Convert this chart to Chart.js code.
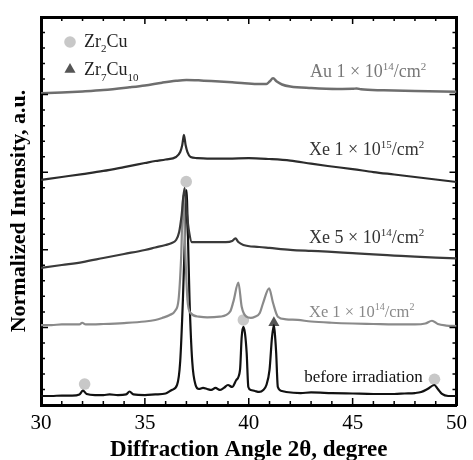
<!DOCTYPE html>
<html>
<head>
<meta charset="utf-8">
<script src="https://cdn.jsdelivr.net/npm/chart.js@4.4.1/dist/chart.umd.min.js"></script>
<style>
  html, body { margin: 0; padding: 0; background: #fff; }
  canvas { display: block; }
</style>
</head>
<body>
<canvas id="xrd" width="473" height="460"></canvas>
<script>
// XRD patterns, 2θ in degrees, stacked normalized intensities (a.u.)
const beforeAngle = [30.0,30.5,31.0,31.5,31.85,32.02,32.2,32.6,33.0,33.3,33.7,34.1,34.26,34.45,35.0,35.5,36.0,36.3,36.55,36.7,36.83,36.92,37.0,37.08,37.15,37.28,37.44,37.6,37.8,38.0,38.2,38.4,38.6,38.8,39.0,39.2,39.4,39.58,39.66,39.74,39.82,39.9,39.98,40.1,40.3,40.5,40.7,40.85,41.0,41.12,41.21,41.28,41.32,41.4,41.6,41.8,42.5,43.0,44.0,45.0,46.0,47.0,47.5,48.0,48.3,48.6,48.93,49.1,49.3,49.6,50.0];
const beforeInt   = [0.58,0.58,0.61,0.61,0.68,0.93,0.71,0.64,0.64,0.68,0.64,0.68,0.87,0.68,0.64,0.68,0.74,0.97,1.29,2.8,6.77,10.5,13.85,10.5,6.77,2.8,1.29,1.03,1.10,1.03,0.97,1.10,0.97,1.10,1.29,1.16,1.61,2.26,4.38,5.03,4.6,3.35,1.16,0.97,0.90,0.84,0.97,1.29,2.26,4.38,5.15,4.2,3.35,1.16,0.90,0.84,0.77,0.81,0.77,0.74,0.71,0.71,0.74,0.77,0.84,1.03,1.29,1.03,0.71,0.58,0.58];

const xe14Angle = [30.0,30.5,31.0,31.5,31.85,31.98,32.15,33.0,34.0,35.0,35.5,35.83,36.2,36.45,36.62,36.74,36.85,36.96,37.05,37.2,37.6,38.0,38.6,39.1,39.26,39.5,39.66,39.88,40.1,40.3,40.53,40.69,40.98,41.17,41.4,41.8,42.36,43.0,44.0,45.0,46.0,47.0,48.0,48.5,48.82,49.1,49.5,50.0];
const xe14Int   = [5.15,5.15,5.19,5.19,5.19,5.30,5.19,5.22,5.28,5.38,5.48,5.61,5.80,6.06,6.77,9.34,13.53,9.34,6.77,5.93,5.69,5.64,5.69,6.01,6.66,7.88,6.33,5.69,5.61,5.69,5.93,6.57,7.52,6.57,5.69,5.52,5.48,5.38,5.30,5.25,5.22,5.19,5.19,5.25,5.43,5.22,5.12,5.09];

const xe5Angle = [30,31,32,33,34,35,35.5,36,36.3,36.5,36.65,36.77,36.91,37.03,37.13,37.26,37.6,38.2,38.9,39.2,39.36,39.5,39.74,40.5,41.0,42,43,43.8,45,46,47,48,49,50];
const xe5Int   = [8.83,9.02,9.21,9.47,9.73,9.99,10.15,10.31,10.44,10.63,11.15,12.24,13.98,12.24,11.15,10.50,10.50,10.50,10.50,10.57,10.73,10.50,10.31,10.18,10.12,10.0,9.93,9.88,9.78,9.70,9.63,9.56,9.50,9.45];

const xe15Angle = [30,31,32,33,34,35,35.5,36,36.5,36.7,36.8,36.88,36.96,37.05,37.2,37.5,38,39,40,41,42,43,43.8,45,46,47,48,49,50];
const xe15Int   = [14.50,14.69,14.88,15.08,15.33,15.59,15.72,15.82,15.98,16.30,16.75,17.40,16.75,16.30,15.98,15.91,15.88,15.88,15.91,15.85,15.75,15.55,15.40,15.20,15.01,14.85,14.69,14.53,14.37];

const auAngle = [30,31,32,33,34.26,35,35.83,36.5,37.0,37.7,38.4,39.2,39.8,40.5,40.85,41.0,41.17,41.35,41.6,42.0,43.0,44.26,45.0,45.2,45.4,46.5,48,50];
const auInt   = [20.08,20.13,20.20,20.29,20.47,20.59,20.77,20.89,20.94,20.91,20.86,20.79,20.73,20.68,20.68,20.84,21.05,20.84,20.65,20.52,20.42,20.36,20.37,20.40,20.34,20.28,20.23,20.19];

// phase identification markers
const zr2cuAngle = [32.1, 36.99, 39.74, 48.94];
const zr2cuInt   = [1.35, 14.39, 5.48, 1.66];
const zr7cu10Angle = [41.21];
const zr7cu10Int   = [5.3];

// axis ranges and ticks
const X_MIN = 30, X_MAX = 50, X_MAJOR = 5;
const Y_MIN = 0, Y_MAX = 25, Y_MAJOR = 5;

const SERIF = '"Liberation Serif", "Times New Roman", serif';

const pts = (xs, ys) => xs.map((x, i) => ({ x, y: ys[i] }));

// curve labels, anchored in data units (2θ, intensity)
const curveLabels = [
  { at: [42.95, 21.13], size: 18, color: '#777', parts: [{ t: 'Au 1 × 10' }, { t: '14', sup: true }, { t: '/cm' }, { t: '2', sup: true }] },
  { at: [42.90, 16.11], size: 18, color: '#333', parts: [{ t: 'Xe 1 × 10' }, { t: '15', sup: true }, { t: '/cm' }, { t: '2', sup: true }] },
  { at: [42.90, 10.44], size: 18, color: '#333', parts: [{ t: 'Xe 5 × 10' }, { t: '14', sup: true }, { t: '/cm' }, { t: '2', sup: true }] },
  { at: [42.90, 5.67],  size: 16.5, color: '#888', parts: [{ t: 'Xe 1 × 10' }, { t: '14', sup: true }, { t: '/cm' }, { t: '2', sup: true }] },
  { at: [42.67, 1.48],  size: 17, color: '#111', parts: [{ t: 'before irradiation' }] }
];

function drawRich(ctx, parts, x, y, size, color) {
  ctx.fillStyle = color;
  ctx.textAlign = 'left';
  ctx.textBaseline = 'alphabetic';
  for (const p of parts) {
    const small = p.sup || p.sub;
    const s = small ? Math.round(size * 0.62) : size;
    ctx.font = s + 'px ' + SERIF;
    const dy = p.sup ? -size * 0.4 : p.sub ? size * 0.32 : 0;
    ctx.fillText(p.t, x, y + dy);
    x += ctx.measureText(p.t).width;
  }
}

// inward tick marks on all four sides of the frame
const frameTicks = {
  id: 'frameTicks',
  afterDraw(chart) {
    const { ctx, chartArea: a, scales: { x, y } } = chart;
    ctx.save();
    ctx.strokeStyle = '#000';
    ctx.lineWidth = 1.5;
    ctx.beginPath();
    for (let v = X_MIN; v <= X_MAX; v++) {
      const px = x.getPixelForValue(v);
      const len = v % X_MAJOR === 0 ? 7 : 4;
      ctx.moveTo(px, a.bottom); ctx.lineTo(px, a.bottom - len);
      ctx.moveTo(px, a.top);    ctx.lineTo(px, a.top + len);
    }
    for (let v = Y_MIN; v <= Y_MAX; v++) {
      const py = y.getPixelForValue(v);
      const len = v % Y_MAJOR === 0 ? 7 : 4;
      ctx.moveTo(a.left, py);  ctx.lineTo(a.left + len, py);
      ctx.moveTo(a.right, py); ctx.lineTo(a.right - len, py);
    }
    ctx.stroke();
    ctx.restore();
  }
};

// curve labels and the phase legend
const annotations = {
  id: 'annotations',
  afterDraw(chart) {
    const { ctx, chartArea: a, scales: { x, y } } = chart;
    ctx.save();
    for (const l of curveLabels) {
      drawRich(ctx, l.parts, x.getPixelForValue(l.at[0]), y.getPixelForValue(l.at[1]), l.size, l.color);
    }
    // legend
    const lx = a.left + 29;
    ctx.fillStyle = '#c8c8c8';
    ctx.beginPath();
    ctx.arc(lx, a.top + 25, 5.8, 0, Math.PI * 2);
    ctx.fill();
    const r = 6.4, ty = a.top + 52.5;
    ctx.fillStyle = '#555';
    ctx.beginPath();
    ctx.moveTo(lx, ty - r);
    ctx.lineTo(lx + r * Math.sin(2 * Math.PI / 3), ty + r / 2);
    ctx.lineTo(lx - r * Math.sin(2 * Math.PI / 3), ty + r / 2);
    ctx.closePath();
    ctx.fill();
    drawRich(ctx, [{ t: 'Zr' }, { t: '2', sub: true }, { t: 'Cu' }], a.left + 43, a.top + 29.7, 18, '#222');
    drawRich(ctx, [{ t: 'Zr' }, { t: '7', sub: true }, { t: 'Cu' }, { t: '10', sub: true }], a.left + 43, a.top + 58, 18, '#222');
    ctx.restore();
  }
};

const lineStyle = (color, width) => ({
  borderColor: color,
  backgroundColor: color,
  borderWidth: width,
  pointRadius: 0,
  fill: false,
  cubicInterpolationMode: 'monotone',
  xAxisID: 'x',
  yAxisID: 'y'
});

const border = { display: true, color: '#000', width: 3 };

new Chart(document.getElementById('xrd'), {
  type: 'line',
  data: {
    datasets: [
      { label: 'Au 1×10^14/cm^2', data: pts(auAngle, auInt), ...lineStyle('#6e6e6e', 2.5) },
      { label: 'Xe 1×10^15/cm^2', data: pts(xe15Angle, xe15Int), ...lineStyle('#2c2c2c', 2.2) },
      { label: 'Xe 5×10^14/cm^2', data: pts(xe5Angle, xe5Int), ...lineStyle('#3a3a3a', 2.2) },
      { label: 'Xe 1×10^14/cm^2', data: pts(xe14Angle, xe14Int), ...lineStyle('#8a8a8a', 2.2) },
      { label: 'before irradiation', data: pts(beforeAngle, beforeInt), ...lineStyle('#111', 2.2) },
      { label: 'Zr2Cu', type: 'scatter', data: pts(zr2cuAngle, zr2cuInt), showLine: false,
        pointStyle: 'circle', pointRadius: 5.8, pointBackgroundColor: '#c8c8c8', pointBorderWidth: 0,
        xAxisID: 'x', yAxisID: 'y' },
      { label: 'Zr7Cu10', type: 'scatter', data: pts(zr7cu10Angle, zr7cu10Int), showLine: false,
        pointStyle: 'triangle', pointRadius: 6.4, pointBackgroundColor: '#555', pointBorderWidth: 0,
        xAxisID: 'x', yAxisID: 'y' }
    ]
  },
  options: {
    responsive: false,
    animation: false,
    devicePixelRatio: 1,
    layout: { padding: 0 },
    plugins: { legend: { display: false }, tooltip: { enabled: false } },
    scales: {
      x: {
        type: 'linear', position: 'bottom', min: X_MIN, max: X_MAX,
        afterFit(s) { s.height = 55; },
        grid: { display: false, drawTicks: false },
        border,
        ticks: { stepSize: X_MAJOR, padding: 6, color: '#000', maxRotation: 0,
                 font: { family: SERIF, size: 21 } },
        title: { display: true, text: 'Diffraction Angle 2θ, degree', color: '#000',
                 font: { family: SERIF, size: 23, weight: 'bold', lineHeight: 1 },
                 padding: { top: 0, bottom: -2 } }
      },
      xTop: {
        type: 'linear', position: 'top', min: X_MIN, max: X_MAX,
        afterFit(s) { s.height = 17; },
        grid: { display: false, drawTicks: false }, border, ticks: { display: false }
      },
      y: {
        type: 'linear', position: 'left', min: Y_MIN, max: Y_MAX,
        afterFit(s) { s.width = 41; },
        grid: { display: false, drawTicks: false }, border, ticks: { display: false },
        title: { display: true, text: 'Normalized Intensity, a.u.', color: '#000',
                 font: { family: SERIF, size: 22, weight: 'bold', lineHeight: 1 },
                 padding: { top: 8, bottom: 0 } }
      },
      yRight: {
        type: 'linear', position: 'right', min: Y_MIN, max: Y_MAX,
        afterFit(s) { s.width = 12; },
        grid: { display: false, drawTicks: false }, border, ticks: { display: false }
      }
    }
  },
  plugins: [frameTicks, annotations]
});
</script>
</body>
</html>
